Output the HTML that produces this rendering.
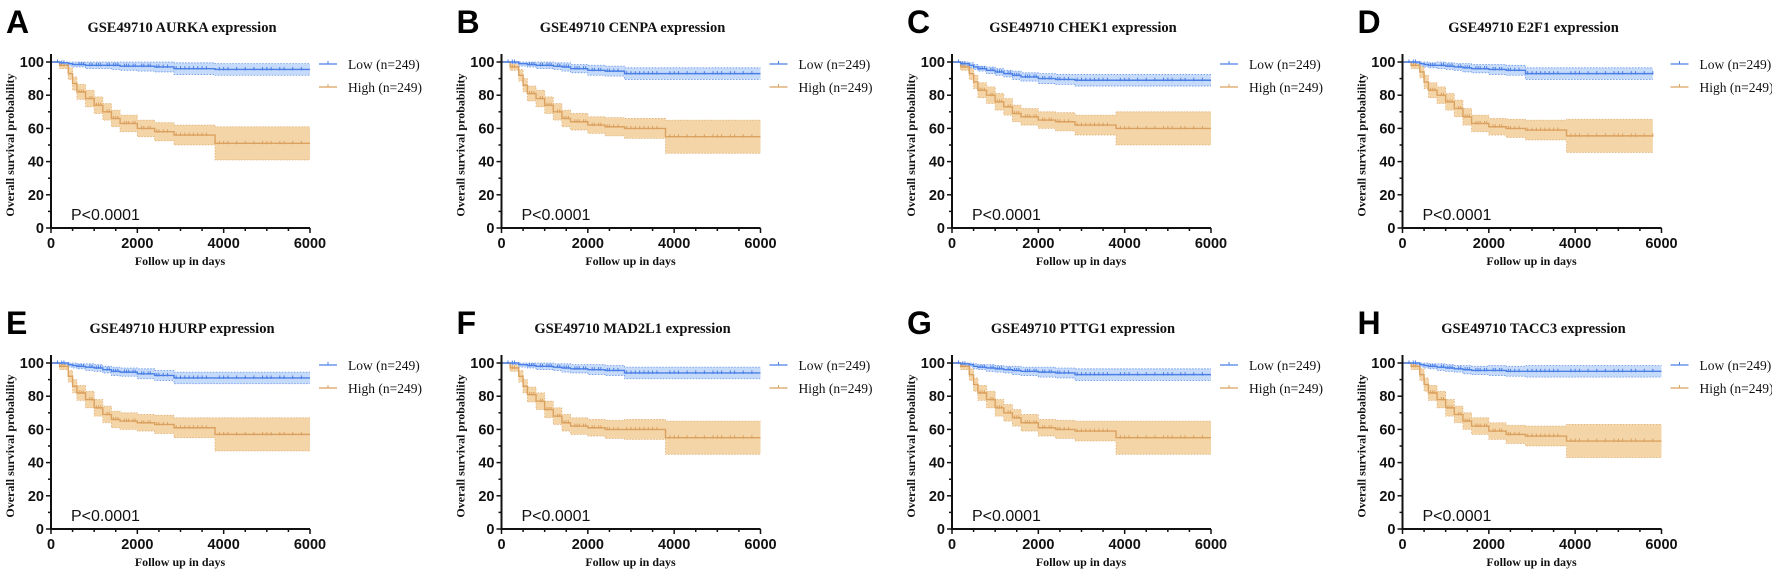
<!DOCTYPE html>
<html><head><meta charset="utf-8"><style>
html,body{margin:0;padding:0;background:#fff;width:1772px;height:576px;overflow:hidden}
svg{display:block}
.tk{font-family:"Liberation Sans",Arial,sans-serif;font-weight:bold;font-size:14.5px;fill:#111}
.sr{font-family:"Liberation Serif","Times New Roman",serif;fill:#111}
</style></head><body>
<svg id="fig" width="1772" height="576" viewBox="0 0 1772 576" xmlns="http://www.w3.org/2000/svg"></svg>
<script>
const letters = ["A","B","C","D","E","F","G","H"];
const genes = ["AURKA","CENPA","CHEK1","E2F1","HJURP","MAD2L1","PTTG1","TACC3"];
const days = [0,200,400,500,600,800,1000,1200,1400,1600,2000,2400,2850,3800,6000];
const endDay = [6000,6000,6000,5800,6000,6000,6000,6000];
const highA = [100,98,93,87,82,78,74,70,66,63,60,58,56,51,51];
const highB = [100,97,92,86,81,78,74,70,66,64,62,61,60,55,55];
const highC = [100,97,93,88,83,80,76,73,69,67,65,64,62,60,60];
const highD = [100,98,94,88,83,80,76,72,67,63,61,60,59,55.5,55.5];
const highE = [100,98,92,86,82,78,73,69,66,65,64,63,61,57,57];
const highF = [100,97,92,86,81,77,72,68,64,62,61,60,60,55,55];
const highG = [100,98,93,87,82,78,73,70,67,64,61,60,59,55,55];
const highH = [100,98,93,87,82,78,73,69,65,62,59,57,56,53,53];
const lowA = [100,99.5,99,98.5,98.5,98,98,98,98,97.5,97.5,97,96,95.5,95.5];
const lowB = [100,100,99,99,98.5,98,98,97.5,97,96,95,94.5,93,93,93];
const lowC = [100,99,98,97,96,95,94,93,92,91,90,89.5,89,89,89];
const lowD = [100,100,99,98.5,98,98,97.5,97,96.5,96,95.5,95,93,93,93];
const lowE = [100,100,99,98.5,98,97.5,97,96,95,94.5,93.5,92.5,91,91,91];
const lowF = [100,100,99,99,98.5,98,98,97.5,97,96.5,96,95.5,94,94,94];
const lowG = [100,99.5,99,98,97.5,97,96.5,96,95.5,95,94.5,94,93,93,93];
const lowH = [100,100,99,98.5,98,97.5,97,96.5,96,95.5,95.5,95,95,95,95];
const highHalf = [0,2,3.5,4,4.5,5,5,5,5,5,5,5.5,6,10,10];
const lowHalf = [0,1,1.5,1.5,1.5,2,2,2,2.5,2.5,3,3,3.5,3.5,3.5];
const censorDays = [150,250,300,650,700,750,900,950,1050,1100,1150,1300,1350,1450,1500,1550,1700,1750,1800,1900,1950,2100,2150,2250,2300,2450,2500,2600,2700,2900,3000,3100,3200,3300,3400,3500,3600,3900,4000,4100,4300,4500,4700,4900,5000,5100,5300,5400,5600,5800];
const yTicks = [0,20,40,60,80,100];
const xTicks = [0,2000,4000,6000];
const highs = [highA,highB,highC,highD,highE,highF,highG,highH];
const lows = [lowA,lowB,lowC,lowD,lowE,lowF,lowG,lowH];

const NS = "http://www.w3.org/2000/svg";
const fig = document.getElementById("fig");
function mk(tag, attrs, parent, text){
  const e = document.createElementNS(NS, tag);
  for (const k in attrs) e.setAttribute(k, attrs[k]);
  if (text !== undefined) e.textContent = text;
  parent.appendChild(e); return e;
}
function stepPath(xf, yf, vals, end){
  let d = "M" + xf(days[0]) + "," + yf(vals[0]);
  for (let i = 1; i < days.length; i++){
    if (days[i] > end) break;
    d += "H" + xf(days[i]) + "V" + yf(vals[i]);
  }
  return d + "H" + xf(end);
}
function bandPath(xf, yf, vals, half, end){
  const up = vals.map((v,i)=>Math.min(100,v+half[i]));
  const lo = vals.map((v,i)=>v-half[i]);
  let d = stepPath(xf, yf, up, end);
  let pts = [];
  for (let i = 0; i < days.length && days[i] <= end; i++) pts.push(i);
  d += "V" + yf(lo[pts[pts.length-1]]);
  for (let k = pts.length-1; k >= 1; k--){
    const i = pts[k];
    d += "H" + xf(days[i]) + "V" + yf(lo[i-1]);
  }
  d += "H" + xf(days[0]) + "Z";
  return {d, up, lo};
}
function valAt(vals, t){
  let v = vals[0];
  for (let i = 0; i < days.length; i++) if (days[i] <= t) v = vals[i];
  return v;
}

for (let p = 0; p < 8; p++){
  const ox = (p % 4) * 450.5, oy = p < 4 ? 0 : 301;
  const g = mk("g", {transform:`translate(${ox},${oy})`}, fig);
  
  
  const X0 = 51, X1 = 310, Y0 = 228, Y1 = 62;
  const xf = t => (X0 + (t/6000)*(X1-X0)).toFixed(2);
  const yf = v => (Y0 - (v/100)*(Y0-Y1)).toFixed(2);
  const end = endDay[p];

  const lt = mk("text", {x:6, y:33, "font-family":"Liberation Sans,Arial,sans-serif", "font-weight":"bold", "font-size":"32", fill:"#000"}, g, letters[p]);
  
  
  const tt = mk("text", {x:182, y:32, "text-anchor":"middle", class:"sr", "font-weight":"bold", "font-size":"14.5"}, g, "GSE49710 " + genes[p] + " expression");
  
  

  const series = [
    {vals: highs[p], half: highHalf, line:"#dba15f", fill:"#f4d5a8", name:"high"},
    {vals: lows[p], half: lowHalf, line:"#4a7fe6", fill:"#c6dafa", name:"low"}
  ];
  for (const s of series){
    const b = bandPath(xf, yf, s.vals, s.half, end);
    const band = mk("path", {d:b.d, fill:s.fill, stroke:"none"}, g);
    
    
    for (const arr of [b.up, b.lo]){
      const e = mk("path", {d:stepPath(xf, yf, arr, end), fill:"none", stroke:s.line, "stroke-width":"0.8", "stroke-dasharray":"1.5,1.5", opacity:"0.8"}, g);
      
      
    }
  }
  for (const s of series){
    const ln = mk("path", {d:stepPath(xf, yf, s.vals, end), fill:"none", stroke:s.line, "stroke-width":"1.4"}, g);
    
    
    for (const c of censorDays){
      if (c > end) continue;
      const yy = +yf(valAt(s.vals, c));
      const ck = mk("line", {x1:xf(c), x2:xf(c), y1:yy-2.5, y2:yy+1, stroke:s.line, "stroke-width":"1"}, g);
      
      
    }
  }

  const ax = mk("path", {d:`M${X0},${Y1-8}V${Y0}H${X1}`, fill:"none", stroke:"#111", "stroke-width":"2"}, g);
  
  
  for (let v = 0; v <= 100; v += 10){
    const major = v % 20 === 0;
    const t = mk("line", {x1:X0-(major?5:3), x2:X0, y1:yf(v), y2:yf(v), stroke:"#111", "stroke-width":"1.5"}, g);
    
    
  }
  for (const v of yTicks){
    const l = mk("text", {x:X0-7, y:+yf(v)+5, "text-anchor":"end", class:"tk"}, g, String(v));
    
    
  }
  for (let t = 0; t <= 6000; t += 500){
    const major = t % 2000 === 0;
    const k = mk("line", {x1:xf(t), x2:xf(t), y1:Y0, y2:Y0+(major?5:3), stroke:"#111", "stroke-width":"1.5"}, g);
    
    
  }
  for (const t of xTicks){
    const l = mk("text", {x:xf(t), y:Y0+20, "text-anchor":"middle", class:"tk"}, g, String(t));
    
    
  }
  const yl = mk("text", {transform:`translate(14,${(Y0+Y1)/2}) rotate(-90)`, "text-anchor":"middle", class:"sr", "font-weight":"bold", "font-size":"12"}, g, "Overall survival probability");
  
  
  const xl = mk("text", {x:180, y:265, "text-anchor":"middle", class:"sr", "font-weight":"bold", "font-size":"12"}, g, "Follow up in days");
  
  
  const pv = mk("text", {x:71, y:220, "font-family":"Liberation Sans,Arial,sans-serif", "font-size":"16", fill:"#111"}, g, "P<0.0001");
  
  

  const leg = [["Low (n=249)", "#4a7fe6", 64], ["High (n=249)", "#dba15f", 87]];
  for (const [txt, col, ly] of leg){
    const lg = mk("g", {}, g);
    
    
    mk("line", {x1:319, x2:337, y1:ly, y2:ly, stroke:col, "stroke-width":"1.3"}, lg);
    mk("line", {x1:328, x2:328, y1:ly-3, y2:ly, stroke:col, "stroke-width":"1"}, lg);
    mk("text", {x:348, y:ly+5, class:"sr", "font-size":"13.5"}, lg, txt);
  }
}
</script>
</body></html>
